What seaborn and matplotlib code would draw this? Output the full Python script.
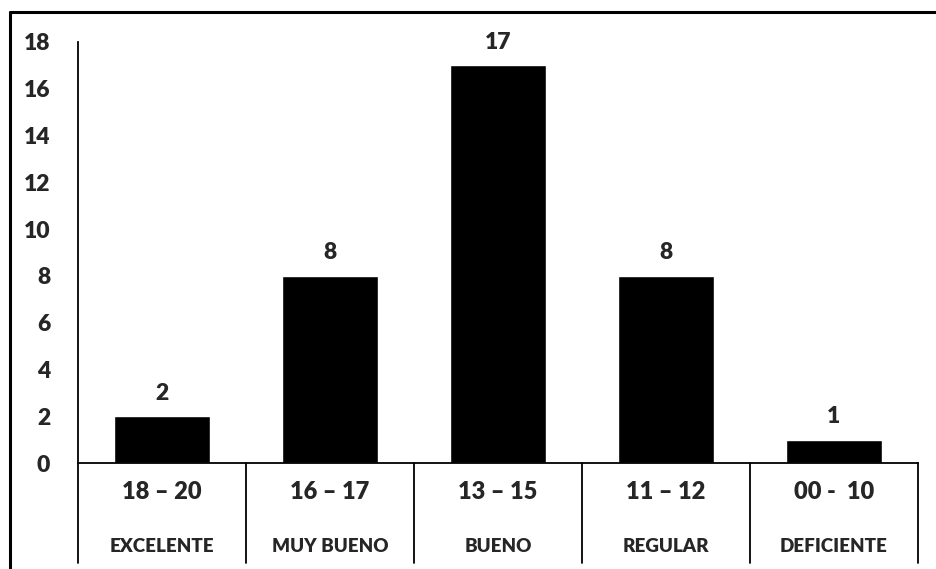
import pandas as pd
import matplotlib.pyplot as plt
import matplotlib.transforms as mtransforms
import seaborn as sns

# data
rangos = ["18 – 20", "16 – 17", "13 – 15", "11 – 12", "00 -  10"]
niveles = ["EXCELENTE", "MUY BUENO", "BUENO", "REGULAR", "DEFICIENTE"]
cantidades = [2, 8, 17, 8, 1]

df = pd.DataFrame({"rango": rangos, "nivel": niveles, "cantidad": cantidades})

sns.set_style("white")
plt.rcParams["font.family"] = ["Lato", "DejaVu Sans"]
plt.rcParams["font.weight"] = "bold"
W = "heavy"

fig = plt.figure(figsize=(9.37, 5.69), dpi=100)
ax = fig.add_axes([78 / 937, 1 - 463 / 569, (918 - 78) / 937, (463 - 42) / 569])

sns.barplot(data=df, x="rango", y="cantidad", color="black", width=0.57,
            saturation=1, ax=ax)

ax.set_xlim(-0.5, len(rangos) - 0.5)
ax.set_ylim(0, 18)
ax.set_yticks(range(0, 19, 2))
ax.tick_params(axis="y", length=0, pad=20, labelsize=16.5)
for lab in ax.get_yticklabels():
    lab.set_fontweight(W)
ax.set_xticks([])
ax.set_xlabel("")
ax.set_ylabel("")

sns.despine(ax=ax, top=True, right=True)
for side in ["left", "bottom"]:
    ax.spines[side].set_color("black")
    ax.spines[side].set_linewidth(1.3)

# value labels
for i, v in enumerate(cantidades):
    ax.annotate(str(v), (i, v), xytext=(0, 9), textcoords="offset points",
                ha="center", va="bottom", fontsize=16.5, fontweight=W)

# two-row category labels with separators
trans = mtransforms.blended_transform_factory(ax.transData, ax.transAxes)
for i, (r, n) in enumerate(zip(rangos, niveles)):
    ax.text(i, -0.07, r, transform=trans, ha="center", va="center",
            fontsize=17, fontweight=W, clip_on=False)
    ax.text(i, -0.198, n, transform=trans, ha="center", va="center",
            fontsize=13.5, fontweight=W, clip_on=False)
for k in range(len(rangos) + 1):
    ax.plot([k - 0.5, k - 0.5], [0, -0.238], transform=trans, color="black",
            linewidth=1.3, clip_on=False)

# outer frame lines (top and left)
fig.add_artist(plt.Line2D([10 / 937, 1], [1 - 12 / 569, 1 - 12 / 569],
                          transform=fig.transFigure, color="black", linewidth=2.2))
fig.add_artist(plt.Line2D([10 / 937, 10 / 937], [0, 1 - 12 / 569],
                          transform=fig.transFigure, color="black", linewidth=2.2))

fig.savefig("out.png", dpi=100)
